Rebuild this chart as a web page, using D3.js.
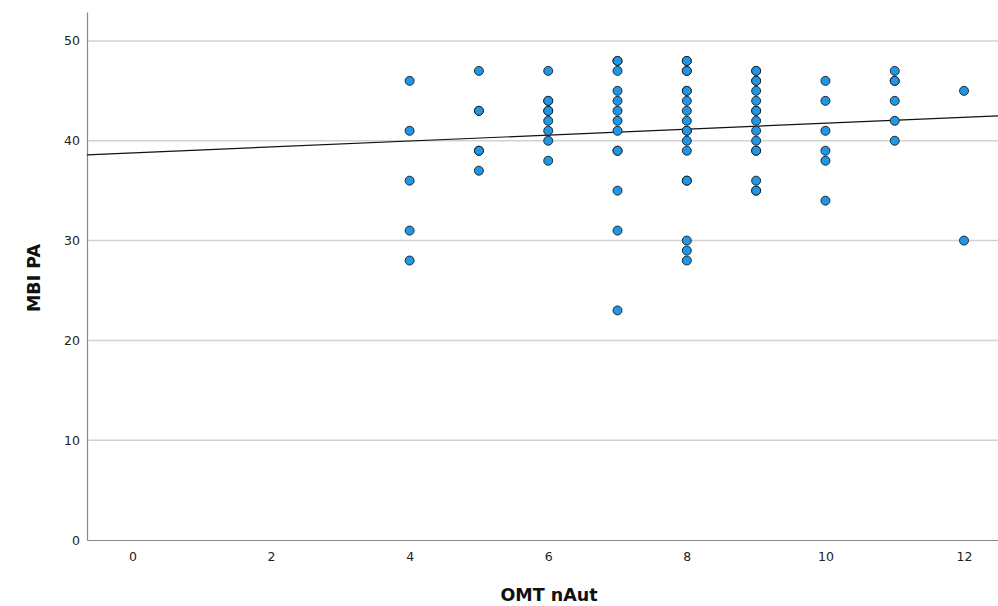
<!DOCTYPE html>
<html>
<head>
<meta charset="utf-8">
<script src="https://cdn.jsdelivr.net/npm/d3@7"></script>
<style>
  body { margin: 0; background: #fff; }
  text { font-family: "DejaVu Sans", "Noto Sans", sans-serif; }
</style>
</head>
<body>
<svg id="chart" width="998" height="606"></svg>
<script>
// OMT nAut values, and the MBI PA values seen at each of them
var xValues = [4, 5, 6, 7, 8, 9, 10, 11, 12];
var yValues = [
    [46, 41, 36, 31, 28],
    [47, 43, 43, 39, 39, 37],
    [47, 44, 44, 43, 43, 42, 41, 40, 38],
    [48, 48, 47, 45, 44, 43, 42, 41, 39, 39, 35, 31, 23],
    [48, 48, 47, 47, 45, 45, 44, 43, 42, 41, 41, 40, 39, 36, 36, 30, 29, 28],
    [47, 47, 46, 46, 45, 44, 43, 43, 42, 41, 40, 39, 39, 36, 35, 35],
    [46, 44, 41, 39, 38, 34],
    [47, 46, 46, 44, 42, 40],
    [45, 30]
];
var xTicks = [0, 2, 4, 6, 8, 10, 12];
var yTicks = [0, 10, 20, 30, 40, 50];
var fitIntercept = 38.78, fitSlope = 0.298;

var points = [];
xValues.forEach(function (x, i) {
    yValues[i].forEach(function (y) { points.push({ x: x, y: y }); });
});

var svg = d3.select("#chart"),
    plotLeft = 87, plotRight = 998, plotTop = 12, plotBottom = 540;

var xScale = d3.scaleLinear().domain([-0.655, 12.49]).range([plotLeft, plotRight]),
    yScale = d3.scaleLinear().domain([0, 52.9]).range([plotBottom, plotTop]);

// gridlines
svg.append("g")
    .selectAll("line")
    .data(yTicks.filter(function (d) { return d > 0; }))
    .enter().append("line")
    .attr("x1", plotLeft)
    .attr("x2", plotRight)
    .attr("y1", function (d) { return yScale(d); })
    .attr("y2", function (d) { return yScale(d); })
    .attr("stroke", "#d2d2d2")
    .attr("stroke-width", 1.5);

// axes
var xAxis = svg.append("g")
    .attr("transform", "translate(0," + plotBottom + ")")
    .call(d3.axisBottom(xScale).tickValues(xTicks).tickSize(0).tickPadding(12));
var yAxis = svg.append("g")
    .attr("transform", "translate(" + plotLeft + ",0)")
    .call(d3.axisLeft(yScale).tickValues(yTicks).tickSize(0).tickPadding(7));

[xAxis, yAxis].forEach(function (a) {
    a.select(".domain").attr("stroke", "#888").attr("stroke-width", 1.2);
    a.selectAll("text").attr("font-size", "12.5px").attr("fill", "#222");
});

// fit line
var xd = xScale.domain();
svg.append("line")
    .attr("x1", xScale(xd[0]))
    .attr("x2", xScale(xd[1]))
    .attr("y1", yScale(fitIntercept + fitSlope * xd[0]))
    .attr("y2", yScale(fitIntercept + fitSlope * xd[1]))
    .attr("stroke", "#111")
    .attr("stroke-width", 1.2);

// points
svg.append("g")
    .selectAll("circle")
    .data(points)
    .enter().append("circle")
    .attr("cx", function (d) { return xScale(d.x); })
    .attr("cy", function (d) { return yScale(d.y); })
    .attr("r", 4.5)
    .attr("fill", "#1f96e6")
    .attr("stroke", "#1a1a1a")
    .attr("stroke-width", 0.9);

// axis titles
svg.append("text")
    .attr("x", 549)
    .attr("y", 601)
    .attr("text-anchor", "middle")
    .attr("font-size", "17.5px")
    .attr("font-weight", "bold")
    .attr("fill", "#111")
    .text("OMT nAut");

svg.append("text")
    .attr("transform", "translate(40,278) rotate(-90)")
    .attr("text-anchor", "middle")
    .attr("font-size", "17.5px")
    .attr("font-weight", "bold")
    .attr("fill", "#111")
    .text("MBI PA");
</script>
</body>
</html>
